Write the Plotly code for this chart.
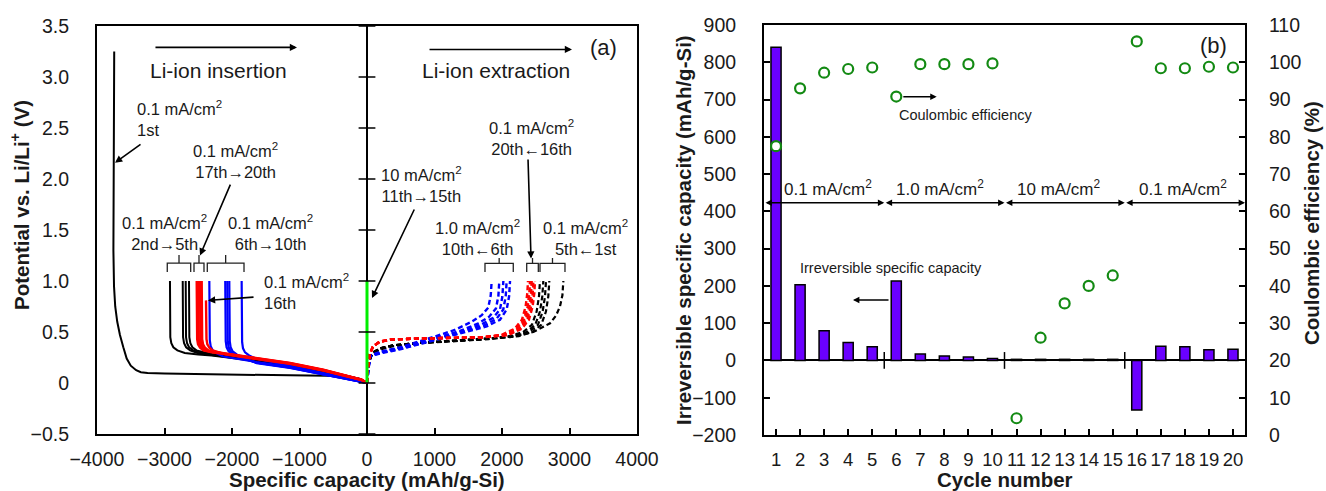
import plotly.graph_objects as go

# ---------------- (a) charge/discharge curves ----------------
ins1_x = [-3745, -3752, -3758, -3757, -3748, -3730, -3700, -3660, -3610, -3560, -3500, -3420, -3350,
          -3250, -3000, -2500, -2000, -1500, -1000, -600, -300, -120, 0]
ins1_v = [3.25, 2.6, 1.9, 1.3, 0.95, 0.75, 0.60, 0.47, 0.35, 0.24, 0.17, 0.125, 0.105,
          0.097, 0.092, 0.088, 0.084, 0.080, 0.076, 0.070, 0.058, 0.040, 0.0]

ins_black_x = [
    [-2919, -2919, -2917, -2914, -2899, -2869, -2809, -2699, -2500, -2300, -2000, -1600, -1100, -650, -300, -100, 0],
    [-2730, -2730, -2728, -2725, -2710, -2680, -2620, -2510, -2300, -2000, -1600, -1100, -650, -300, -100, 0],
    [-2686, -2686, -2684, -2681, -2666, -2636, -2576, -2466, -2300, -2000, -1600, -1100, -650, -300, -100, 0],
    [-2637, -2637, -2635, -2632, -2617, -2587, -2527, -2417, -2300, -2000, -1600, -1100, -650, -300, -100, 0],
]
ins_black_v = [
    [1.0, 0.70, 0.50, 0.45, 0.39, 0.35, 0.32, 0.295, 0.28, 0.27, 0.245, 0.21, 0.165, 0.11, 0.065, 0.035, 0.0],
    [1.0, 0.70, 0.50, 0.45, 0.39, 0.35, 0.32, 0.295, 0.275, 0.25, 0.215, 0.17, 0.115, 0.068, 0.037, 0.0],
    [1.0, 0.70, 0.50, 0.45, 0.39, 0.35, 0.32, 0.298, 0.28, 0.255, 0.22, 0.172, 0.117, 0.07, 0.038, 0.0],
    [1.0, 0.70, 0.50, 0.45, 0.39, 0.35, 0.32, 0.30, 0.285, 0.26, 0.222, 0.175, 0.12, 0.072, 0.04, 0.0],
]

ins_blue_x = [
    [-2336, -2336, -2334, -2329, -2316, -2286, -2226, -2128, -1634, -1141, -647, -252, -80, 0],
    [-2100, -2100, -2098, -2093, -2080, -2050, -1990, -1900, -1634, -1141, -647, -252, -80, 0],
    [-2070, -2070, -2068, -2063, -2050, -2020, -1960, -1870, -1634, -1141, -647, -252, -80, 0],
    [-2040, -2040, -2038, -2033, -2020, -1990, -1930, -1840, -1634, -1141, -647, -252, -80, 0],
    [-1857, -1857, -1855, -1850, -1837, -1807, -1747, -1650, -1400, -1141, -647, -252, -80, 0],
]
ins_blue_v = [
    [1.0, 0.70, 0.50, 0.42, 0.36, 0.32, 0.29, 0.26, 0.205, 0.158, 0.092, 0.038, 0.012, 0.0],
    [1.0, 0.70, 0.50, 0.41, 0.35, 0.31, 0.28, 0.255, 0.20, 0.152, 0.087, 0.035, 0.011, 0.0],
    [1.0, 0.70, 0.50, 0.41, 0.35, 0.31, 0.28, 0.253, 0.198, 0.15, 0.085, 0.034, 0.011, 0.0],
    [1.0, 0.70, 0.50, 0.41, 0.35, 0.31, 0.28, 0.25, 0.195, 0.148, 0.083, 0.033, 0.010, 0.0],
    [1.0, 0.70, 0.50, 0.40, 0.34, 0.30, 0.27, 0.24, 0.205, 0.17, 0.098, 0.040, 0.012, 0.0],
]

ins16_x = [-2385, -2385, -2383, -2378, -2365, -2335, -2285, -2100, -1634, -1141, -647, -252, -80, 0]
ins16_v = [0.81, 0.66, 0.50, 0.43, 0.38, 0.345, 0.32, 0.28, 0.235, 0.187, 0.122, 0.061, 0.029, 0.0]

ins_red_x = [
    [-2523, -2523, -2521, -2516, -2503, -2473, -2423, -2300, -2100, -1634, -1141, -647, -252, -80, 0],
    [-2500, -2500, -2498, -2493, -2480, -2450, -2400, -2300, -2100, -1634, -1141, -647, -252, -80, 0],
    [-2474, -2474, -2472, -2467, -2454, -2424, -2374, -2280, -2100, -1634, -1141, -647, -252, -80, 0],
    [-2449, -2449, -2447, -2442, -2429, -2399, -2349, -2260, -2100, -1634, -1141, -647, -252, -80, 0],
]
ins_red_v = [
    [1.0, 0.70, 0.50, 0.43, 0.38, 0.345, 0.32, 0.30, 0.283, 0.238, 0.19, 0.125, 0.063, 0.03, 0.0],
    [1.0, 0.70, 0.50, 0.43, 0.38, 0.345, 0.32, 0.305, 0.285, 0.24, 0.192, 0.127, 0.065, 0.031, 0.0],
    [1.0, 0.70, 0.50, 0.43, 0.38, 0.345, 0.32, 0.305, 0.287, 0.242, 0.194, 0.129, 0.066, 0.032, 0.0],
    [1.0, 0.70, 0.50, 0.43, 0.38, 0.345, 0.32, 0.306, 0.289, 0.244, 0.196, 0.131, 0.067, 0.033, 0.0],
]

green_x = [0, 0]
green_v = [0.0, 1.0]

ext_black_x = [
    [0, 20, 60, 94, 200, 390, 800, 1378, 1800, 2119, 2464, 2711, 2800, 2859, 2895, 2909],
    [0, 20, 60, 94, 200, 390, 800, 1378, 1800, 2251, 2451, 2581, 2651, 2686, 2701],
    [0, 20, 60, 94, 200, 390, 800, 1378, 1800, 2202, 2402, 2532, 2602, 2637, 2652],
    [0, 20, 60, 94, 200, 390, 800, 1378, 1800, 2162, 2362, 2492, 2562, 2597, 2612],
    [0, 20, 60, 94, 200, 390, 800, 1378, 1800, 2113, 2313, 2443, 2513, 2548, 2563],
]
ext_black_v = [
    [0, 0.16, 0.26, 0.29, 0.33, 0.36, 0.39, 0.41, 0.43, 0.45, 0.50, 0.585, 0.66, 0.75, 0.86, 1.0],
    [0, 0.17, 0.27, 0.30, 0.34, 0.37, 0.395, 0.415, 0.435, 0.46, 0.50, 0.57, 0.70, 0.85, 1.0],
    [0, 0.17, 0.27, 0.30, 0.34, 0.37, 0.395, 0.415, 0.435, 0.46, 0.50, 0.57, 0.70, 0.85, 1.0],
    [0, 0.17, 0.27, 0.30, 0.34, 0.37, 0.395, 0.415, 0.435, 0.46, 0.50, 0.57, 0.70, 0.85, 1.0],
    [0, 0.17, 0.27, 0.30, 0.34, 0.37, 0.395, 0.415, 0.435, 0.46, 0.50, 0.57, 0.70, 0.85, 1.0],
]

ext_blue_x = [
    [0, 15, 44, 193, 489, 884, 1378, 1773, 1970, 2069, 2105, 2119],
    [0, 15, 44, 193, 489, 884, 1378, 1740, 1920, 2019, 2055, 2069],
    [0, 15, 44, 193, 489, 884, 1378, 1700, 1870, 1970, 2006, 2020],
    [0, 15, 44, 193, 489, 884, 1378, 1650, 1810, 1910, 1946, 1960],
    [0, 15, 44, 193, 489, 884, 1300, 1550, 1700, 1797, 1833, 1847],
]
ext_blue_v = [
    [0, 0.12, 0.26, 0.29, 0.33, 0.40, 0.48, 0.555, 0.62, 0.72, 0.85, 1.0],
    [0, 0.12, 0.26, 0.295, 0.335, 0.405, 0.49, 0.565, 0.63, 0.72, 0.85, 1.0],
    [0, 0.12, 0.265, 0.30, 0.34, 0.41, 0.50, 0.575, 0.64, 0.72, 0.85, 1.0],
    [0, 0.12, 0.265, 0.30, 0.345, 0.415, 0.51, 0.585, 0.65, 0.73, 0.85, 1.0],
    [0, 0.12, 0.27, 0.305, 0.35, 0.43, 0.52, 0.60, 0.665, 0.74, 0.86, 1.0],
]

ext_red_x = [
    [0, 15, 40, 90, 190, 350, 700, 1200, 1700, 1985, 2185, 2295, 2350, 2375, 2385],
    [0, 15, 40, 90, 190, 350, 700, 1200, 1700, 2015, 2215, 2325, 2380, 2405, 2415],
    [0, 15, 40, 90, 190, 350, 700, 1200, 1700, 2040, 2240, 2350, 2405, 2430, 2440],
    [0, 15, 40, 90, 190, 350, 700, 1200, 1700, 2065, 2265, 2375, 2430, 2455, 2465],
    [0, 15, 40, 90, 190, 350, 700, 1200, 1700, 2089, 2289, 2399, 2454, 2479, 2489],
]
ext_red_v = [
    [0, 0.15, 0.28, 0.36, 0.405, 0.425, 0.435, 0.44, 0.448, 0.47, 0.53, 0.62, 0.75, 0.88, 1.0],
    [0, 0.15, 0.28, 0.36, 0.405, 0.425, 0.435, 0.44, 0.448, 0.47, 0.53, 0.62, 0.75, 0.88, 1.0],
    [0, 0.15, 0.28, 0.36, 0.405, 0.425, 0.435, 0.44, 0.448, 0.47, 0.53, 0.62, 0.75, 0.88, 1.0],
    [0, 0.15, 0.28, 0.36, 0.405, 0.425, 0.435, 0.44, 0.448, 0.47, 0.53, 0.62, 0.75, 0.88, 1.0],
    [0, 0.15, 0.28, 0.36, 0.405, 0.425, 0.435, 0.44, 0.448, 0.47, 0.53, 0.62, 0.75, 0.88, 1.0],
]

cap_ticks = [-4000, -3000, -2000, -1000, 0, 1000, 2000, 3000, 4000]
cap_ticktext = ["−4000", "−3000", "−2000", "−1000", "0", "1000", "2000", "3000", "4000"]
pot_ticks = [-0.5, 0, 0.5, 1.0, 1.5, 2.0, 2.5, 3.0, 3.5]
pot_ticktext = ["−0.5", "0", "0.5", "1.0", "1.5", "2.0", "2.5", "3.0", "3.5"]

# ---------------- (b) cycling ----------------
cycles = list(range(1, 21))
irr_cap = [840, 203, 80, 48, 37, 213, 17, 12, 9, 5, 3, 3, 3, 3, 3, -133, 38, 37, 29, 30]
ce = [77.5, 93.0, 97.2, 98.2, 98.6, 90.8, 99.5, 99.5, 99.5, 99.7,
      4.5, 26.1, 35.3, 40.0, 42.8, 105.6, 98.4, 98.4, 98.8, 98.6]
rate_labels = ["0.1 mA/cm<sup>2</sup>", "1.0 mA/cm<sup>2</sup>", "10 mA/cm<sup>2</sup>", "0.1 mA/cm<sup>2</sup>"]
cap_b_ticks = [-200, -100, 0, 100, 200, 300, 400, 500, 600, 700, 800, 900]
cap_b_ticktext = ["−200", "−100", "0", "100", "200", "300", "400", "500", "600", "700", "800", "900"]
ce_ticks = [0, 10, 20, 30, 40, 50, 60, 70, 80, 90, 100, 110]

FONT = "Liberation Sans, Arial, sans-serif"
W, H = 1326, 491

fig = go.Figure()

def add_curve(x, v, color, dash="solid", width=2.0):
    fig.add_trace(go.Scatter(x=x, y=v, mode="lines", xaxis="x", yaxis="y",
                             line=dict(color=color, width=width, dash=dash),
                             showlegend=False, hoverinfo="skip"))

# extraction (dashed)
for xs, vs in zip(ext_black_x, ext_black_v):
    add_curve(xs, vs, "#000000", "5px,3px", 2.2)
for xs, vs in zip(ext_blue_x, ext_blue_v):
    add_curve(xs, vs, "#0000ff", "5px,3px", 2.4)
for xs, vs in zip(ext_red_x, ext_red_v):
    add_curve(xs, vs, "#ff0000", "5px,3px", 2.4)
# insertion (solid)
add_curve(ins1_x, ins1_v, "#000000", width=2.0)
for xs, vs in zip(ins_black_x, ins_black_v):
    add_curve(xs, vs, "#000000", width=2.0)
for xs, vs in zip(ins_blue_x, ins_blue_v):
    add_curve(xs, vs, "#0000ff", width=2.2)
for xs, vs in zip(ins_red_x, ins_red_v):
    add_curve(xs, vs, "#ff0000", width=2.4)
add_curve(ins16_x, ins16_v, "#ff0000", width=2.4)
add_curve(green_x, green_v, "#00ee00", width=3)

# cross ticks on the x=0 axis line
fig.add_trace(go.Scatter(x=[0] * len(pot_ticks), y=pot_ticks, mode="markers", xaxis="x", yaxis="y",
                         marker=dict(symbol="line-ew", size=12, line=dict(width=1.5, color="black")),
                         showlegend=False, hoverinfo="skip"))

# (b) bars and CE markers
fig.add_trace(go.Bar(x=cycles, y=irr_cap, xaxis="x2", yaxis="y2", width=0.42,
                     marker=dict(color="#6a00ff", line=dict(color="black", width=1.5)),
                     showlegend=False, hoverinfo="skip"))
fig.add_trace(go.Scatter(x=[5.5, 10.5, 15.5], y=[0, 0, 0], mode="markers", xaxis="x2", yaxis="y2",
                         marker=dict(symbol="line-ns", size=12, line=dict(width=1.5, color="black")),
                         showlegend=False, hoverinfo="skip"))
fig.add_trace(go.Scatter(x=cycles, y=ce, mode="markers", xaxis="x2", yaxis="y3",
                         marker=dict(symbol="circle", size=10, color="white",
                                     line=dict(color="#138a13", width=2.2)),
                         showlegend=False, hoverinfo="skip"))

ann = []
def txt(x, y, text, size=16.5, xref="x", yref="y", xanchor="center", yanchor="middle", bold=False, angle=0):
    ann.append(dict(x=x, y=y, xref=xref, yref=yref, text=("<b>%s</b>" % text) if bold else text,
                    showarrow=False, xanchor=xanchor, yanchor=yanchor, textangle=angle,
                    font=dict(family=FONT, size=size, color="#1a1a1a"), align="center"))

def arrow(x0, y0, x1, y1, xref="x", yref="y", both=False, size=0.9):
    ann.append(dict(x=x1, y=y1, ax=x0, ay=y0, xref=xref, yref=yref, axref=xref, ayref=yref,
                    text="", showarrow=True, arrowhead=2, arrowsize=size, arrowwidth=1.6,
                    arrowcolor="black", arrowside="end+start" if both else "end"))

# --- panel (a) annotations
arrow(-3156, 3.29, -1037, 3.29)
txt(-2207, 3.06, "Li-ion insertion", size=21)
arrow(904, 3.27, 3037, 3.27)
txt(1911, 3.06, "Li-ion extraction", size=21)
txt(3511, 3.29, "(a)", size=22)
txt(-3437, 2.59, "0.1 mA/cm<sup>2</sup><br>1st", xanchor="left", size=16.5)
ann[-1]["align"] = "left"
arrow(-3333, 2.35, -3733, 2.16)
txt(-1941, 2.18, "0.1 mA/cm<sup>2</sup><br>17th→20th")
arrow(-2015, 1.96, -2474, 1.25)
txt(-2993, 1.48, "0.1 mA/cm<sup>2</sup><br>2nd→5th")
txt(-1437, 1.48, "0.1 mA/cm<sup>2</sup><br>6th→10th")
txt(-1556, 0.90, "0.1 mA/cm<sup>2</sup><br>16th", xanchor="left")
ann[-1]["align"] = "left"
arrow(-1659, 0.843, -2356, 0.81)
txt(800, 1.946, "10 mA/cm<sup>2</sup><br>11th→15th")
arrow(711, 1.716, 74, 0.833)
txt(1630, 1.426, "1.0 mA/cm<sup>2</sup><br>10th←6th")
txt(3230, 1.426, "0.1 mA/cm<sup>2</sup><br>5th←1st")
txt(2430, 2.41, "0.1 mA/cm<sup>2</sup><br>20th←16th")
arrow(2385, 2.206, 2430, 1.22)

# --- panel (b) annotations
seg_edges = [0.5, 5.5, 10.5, 15.5, 20.5]
label_x = [3.16, 7.82, 12.77, 17.92]
for i in range(4):
    arrow(seg_edges[i], 423, seg_edges[i + 1], 423, xref="x2", yref="y2", both=True, size=0.8)
    txt(label_x[i], 463, rate_labels[i], size=17, xref="x2", yref="y2")
txt(6.03, 658, "Coulombic efficiency", size=14.5, xref="x2", yref="y2", xanchor="left")
arrow(6.23, 707.7, 7.68, 707.7, xref="x2", yref="y2", size=0.8)
txt(5.78, 248, "Irreversible specific capacity", size=14.5, xref="x2", yref="y2")
arrow(5.74, 162, 4.20, 162, xref="x2", yref="y2", size=0.8)
txt(19.17, 846, "(b)", size=22, xref="x2", yref="y2")

# --- axis titles
txt(20 / W, 1 - 205 / H, "Potential vs. Li/Li<sup>+</sup> (V)", size=20.5, xref="paper", yref="paper", bold=True, angle=-90)
txt(367 / W, 1 - 479 / H, "Specific capacity (mAh/g-Si)", size=20.5, xref="paper", yref="paper", bold=True)
txt(683 / W, 1 - 230 / H, "Irreversible specific capacity (mAh/g-Si)", size=20.5, xref="paper", yref="paper", bold=True, angle=-90)
txt(1311 / W, 1 - 223 / H, "Coulombic efficiency (%)", size=20.5, xref="paper", yref="paper", bold=True, angle=-90)
txt(1005 / W, 1 - 479 / H, "Cycle number", size=20.5, xref="paper", yref="paper", bold=True)

# --- brackets (panel a)
shapes = []
def bracket(x1, x2, xc, yline, yend, ystem):
    path = "M %g,%g L %g,%g L %g,%g L %g,%g L %g,%g M %g,%g L %g,%g" % (
        x1, yend, x1, yline, xc, yline, x2, yline, x2, yend, xc, yline, xc, ystem)
    shapes.append(dict(type="path", path=path, xref="x", yref="y", line=dict(color="#222", width=1.3)))

bracket(-2959, -2612, -2785, 1.176, 1.088, 1.255)
bracket(-2563, -2415, -2489, 1.176, 1.088, 1.255)
bracket(-2366, -1822, -2094, 1.176, 1.088, 1.255)
bracket(1748, 2167, 1958, 1.173, 1.088, 1.225)
bracket(2366, 2538, 2452, 1.173, 1.088, 1.225)
bracket(2563, 2933, 2748, 1.173, 1.088, 1.225)

axis_common = dict(showline=True, linecolor="black", linewidth=2, mirror=True, showgrid=False,
                   automargin=False, tickangle=0, tickcolor="black", tickwidth=1.5)
tick_font = dict(family=FONT, size=19.5, color="#1a1a1a")

fig.update_layout(
    template="none",
    width=W, height=H, margin=dict(l=0, r=0, t=0, b=0, autoexpand=False),
    paper_bgcolor="white", plot_bgcolor="white", showlegend=False,
    font=dict(family=FONT, color="#1a1a1a"),
    xaxis=dict(domain=[97 / W, 637 / W], range=[-4000, 4000], anchor="y",
               tickvals=cap_ticks, ticktext=cap_ticktext, ticks="inside", ticklen=6,
               zeroline=True, zerolinecolor="black", zerolinewidth=1.8,
               ticklabelstandoff=7, tickfont=tick_font, **axis_common),
    yaxis=dict(domain=[1 - 434 / H, 1 - 26 / H], range=[-0.5, 3.5], anchor="x",
               tickvals=pot_ticks, ticktext=pot_ticktext, ticks="", zeroline=False,
               ticklabelstandoff=22, tickfont=tick_font, **axis_common),
    xaxis2=dict(domain=[764 / W, 1245 / W], range=[0.5, 20.5], anchor="y2",
                tickvals=cycles, ticks="inside", ticklen=6, zeroline=False,
                ticklabelstandoff=7, tickfont=dict(family=FONT, size=18.5, color="#1a1a1a"),
                **axis_common),
    yaxis2=dict(domain=[1 - 435 / H, 1 - 25 / H], range=[-200, 900], anchor="x2",
                tickvals=cap_b_ticks, ticktext=cap_b_ticktext, ticks="inside", ticklen=6,
                zeroline=True, zerolinecolor="black", zerolinewidth=1.8,
                ticklabelstandoff=22, tickfont=tick_font, **axis_common),
    yaxis3=dict(overlaying="y2", side="right", range=[0, 110], anchor="x2",
                tickvals=ce_ticks, ticks="inside", ticklen=6, zeroline=False,
                showline=True, linecolor="black", linewidth=2, showgrid=False, automargin=False,
                tickfont=tick_font, tickcolor="black", tickwidth=1.5,
                ticklabelstandoff=18),
    annotations=ann, shapes=shapes,
)

fig.write_html("out.html")
